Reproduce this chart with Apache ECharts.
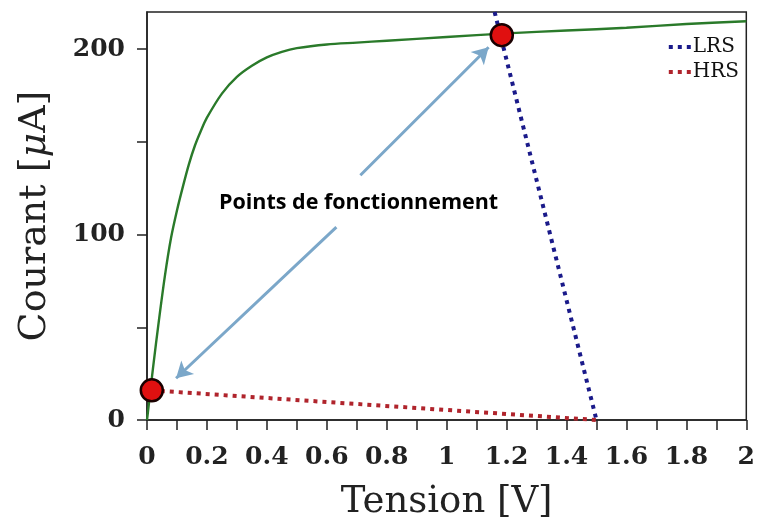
<!DOCTYPE html>
<html><head><meta charset="utf-8">
<script src="https://cdn.jsdelivr.net/npm/echarts@6/dist/echarts.min.js"></script>
<style>html,body{margin:0;padding:0;background:#fff}#c{width:758px;height:526px}</style>
</head><body><div id="c"></div>
<script>
// Data
const greenV = [0,0.01,0.02,0.04,0.06,0.08,0.1,0.12,0.14,0.16,0.18,0.2,0.25,0.3,0.35,0.4,0.45,0.5,0.6,0.7,0.8,1.0,1.2,1.4,1.6,1.8,2.0];
const greenI = [0,14,28,54,78,98,113,126,138,148,156,163,176,185,191,195.5,198.5,200.5,202.5,203.5,204.5,206.5,208.5,210,211.5,213.5,215];
const lrsV = [1.16,1.5];
const lrsI = [220,0];
const hrsV = [0.016,1.5];
const hrsI = [16,0];
const opV = [0.016,1.184];
const opI = [16,207.5];
const xTicks = [0,0.1,0.2,0.3,0.4,0.5,0.6,0.7,0.8,0.9,1,1.1,1.2,1.3,1.4,1.5,1.6,1.7,1.8,1.9,2];
const xLabels = [0,0.2,0.4,0.6,0.8,1,1.2,1.4,1.6,1.8,2];
const yTicks = [0,50,100,150,200];
const yLabels = [0,100,200];
const annoText = 'Points de fonctionnement';
const annoPos = [0.706,117];
const arrowUp = [[0.712,132],[1.14,201]];
const arrowDown = [[0.632,104],[0.097,22.5]];

const zip = (a,b)=>a.map((v,i)=>[v,b[i]]);
const serif = 'DejaVu Serif';
const chart = echarts.init(document.getElementById('c'));
chart.setOption({
  animation:false,
  grid:{left:147,right:10,top:12,bottom:103,show:true,borderColor:'#222',borderWidth:1.5},
  legend:{
    right:14,top:32,orient:'vertical',itemGap:5,itemWidth:24,itemHeight:10,
    itemStyle:{opacity:0,borderWidth:0},
    lineStyle:{width:4},
    textStyle:{fontFamily:serif,fontSize:20,color:'#111',padding:[0,0,0,-5]},
    data:['LRS','HRS']
  },
  xAxis:{
    type:'value',min:0,max:2,
    name:'Tension [V]',nameLocation:'middle',nameGap:64,
    nameTextStyle:{fontFamily:serif,fontSize:37,color:'#222'},
    axisLine:{lineStyle:{color:'#222',width:1.5}},
    axisTick:{show:true,length:10,inside:false,customValues:xTicks,lineStyle:{color:'#222',width:1.5}},
    axisLabel:{customValues:xLabels,fontFamily:serif,fontSize:25,fontWeight:'bold',color:'#222',margin:25,
      formatter:v=>String(Math.round(v*10)/10)},
    splitLine:{show:false}
  },
  yAxis:{
    type:'value',min:0,max:220,
    name:'Courant [{i|μ}A]',nameLocation:'middle',nameGap:93,
    nameTextStyle:{fontFamily:serif,fontSize:38,color:'#222',
      rich:{i:{fontFamily:serif,fontSize:38,fontStyle:'italic',color:'#222'}}},
    axisLine:{show:true,lineStyle:{color:'#222',width:1.5}},
    axisTick:{show:true,length:10,customValues:yTicks,lineStyle:{color:'#222',width:1.5}},
    axisLabel:{customValues:yLabels,fontFamily:serif,fontSize:25,fontWeight:'bold',color:'#222',margin:22},
    splitLine:{show:false}
  },
  series:[
    {type:'line',name:'I-V',data:zip(greenV,greenI),showSymbol:false,symbol:'none',smooth:0.3,
     lineStyle:{color:'#2a7a2a',width:2.4},z:2},
    {type:'line',name:'LRS',data:zip(lrsV,lrsI),symbol:'none',clip:true,
     lineStyle:{color:'#1a1a8a',width:4,type:[4,5]},itemStyle:{color:'#1a1a8a'},z:3},
    {type:'line',name:'HRS',data:zip(hrsV,hrsI),symbol:'none',
     lineStyle:{color:'#b0242c',width:4,type:[4,5]},itemStyle:{color:'#b0242c'},z:3},
    {type:'scatter',name:'op',data:zip(opV,opI),symbolSize:22,
     itemStyle:{color:'#e01010',borderColor:'#1a0000',borderWidth:2.5,opacity:1},z:5},
    {type:'scatter',name:'anno',data:[annoPos],symbolSize:0,silent:true,itemStyle:{opacity:1},
     label:{show:true,position:'inside',formatter:annoText,fontFamily:'Open Sans',fontWeight:'bold',fontSize:21.5,color:'#000'},
     markLine:{silent:true,symbol:['none','arrow'],symbolSize:[14,16],label:{show:false},
       lineStyle:{color:'#7ba7c9',width:3,type:'solid',opacity:1},
       data:[[{coord:arrowUp[0]},{coord:arrowUp[1]}],[{coord:arrowDown[0]},{coord:arrowDown[1]}]]},z:4}
  ]
});
</script></body></html>
